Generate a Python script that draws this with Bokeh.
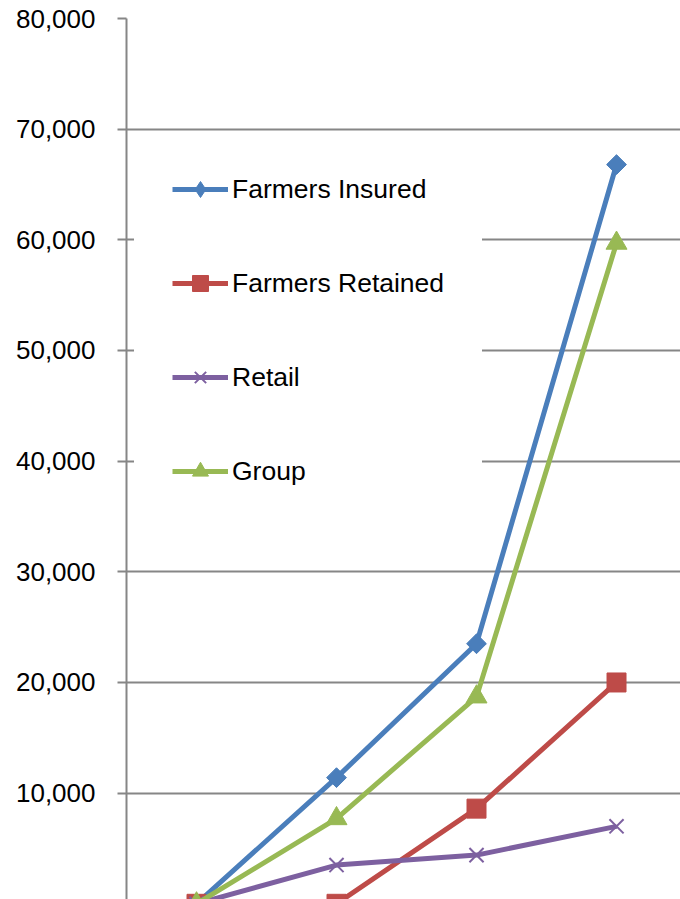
from bokeh.plotting import figure
from bokeh.models import Range1d, FixedTicker, NumeralTickFormatter, Legend, LegendItem
from bokeh.embed import file_html
from bokeh.resources import INLINE
import numpy as np

periods = [1, 2, 3, 4]
farmers_insured = [0, 11400, 23500, 66800]
farmers_retained = [0, 0, 8600, 20000]
retail = [0, 3500, 4400, 7000]
group = [0, 7700, 18700, 59700]
y_ticks = [10000, 20000, 30000, 40000, 50000, 60000, 70000, 80000]

FONT = "Liberation Sans"
GRID = "#868686"

p = figure(width=680, height=899, output_backend="svg", toolbar_location=None,
           x_range=Range1d(0.5, 4.457), y_range=Range1d(389, 80000),
           min_border_left=126, min_border_top=18, min_border_right=0, min_border_bottom=0)
p.outline_line_color = None
p.xaxis.visible = False
p.xgrid.visible = False
p.ygrid.grid_line_color = GRID
p.ygrid.grid_line_width = 2

ax = p.yaxis[0]
ax.ticker = FixedTicker(ticks=y_ticks)
ax.formatter = NumeralTickFormatter(format="0,0")
ax.axis_line_color = GRID
ax.axis_line_width = 2
ax.major_tick_line_color = GRID
ax.major_tick_line_width = 2
ax.major_tick_out = 9
ax.major_tick_in = 0
ax.minor_tick_line_color = None
ax.major_label_standoff = 22
ax.major_label_text_font = FONT
ax.major_label_text_font_size = "26px"
ax.major_label_text_color = "black"

series = [
    ("Farmers Insured", farmers_insured, "#4A7EBB", "square", 14, np.pi / 4),
    ("Farmers Retained", farmers_retained, "#BE4B48", "square", 19, 0),
    ("Retail", retail, "#7D60A0", "x", 20, 0),
    ("Group", group, "#98B954", "triangle", 21, 0),
]

items = []
for name, vals, color, marker, size, angle in series:
    ln = p.line(periods, vals, line_color=color, line_width=5)
    if marker == "x":
        sc = p.scatter(periods, vals, marker=marker, size=size, line_color=color,
                       line_width=2)
    else:
        sc = p.scatter(periods, vals, marker=marker, size=size, angle=angle,
                       fill_color=color, line_color=color, line_width=1)
    if angle:
        # legend-only diamond key (rotated markers are drawn unrotated in legends)
        key = p.scatter(periods, vals, marker="diamond", size=size, fill_color=color,
                        line_color=color, line_width=1, visible=False)
        items.append(LegendItem(label=name, renderers=[ln, key]))
    else:
        items.append(LegendItem(label=name, renderers=[ln, sc]))

legend = Legend(items=items, location=(8, 370), orientation="vertical")
legend.border_line_color = "white"
legend.border_line_alpha = 0
legend.background_fill_color = "white"
legend.background_fill_alpha = 1
legend.padding = 38
legend.margin = 0
legend.spacing = 54
legend.glyph_width = 56
legend.glyph_height = 40
legend.label_height = 40
legend.label_standoff = 4
legend.label_text_font = FONT
legend.label_text_font_size = "26.5px"
legend.label_text_color = "black"
p.add_layout(legend, "center")

open("out.html", "w").write(file_html(p, INLINE))
